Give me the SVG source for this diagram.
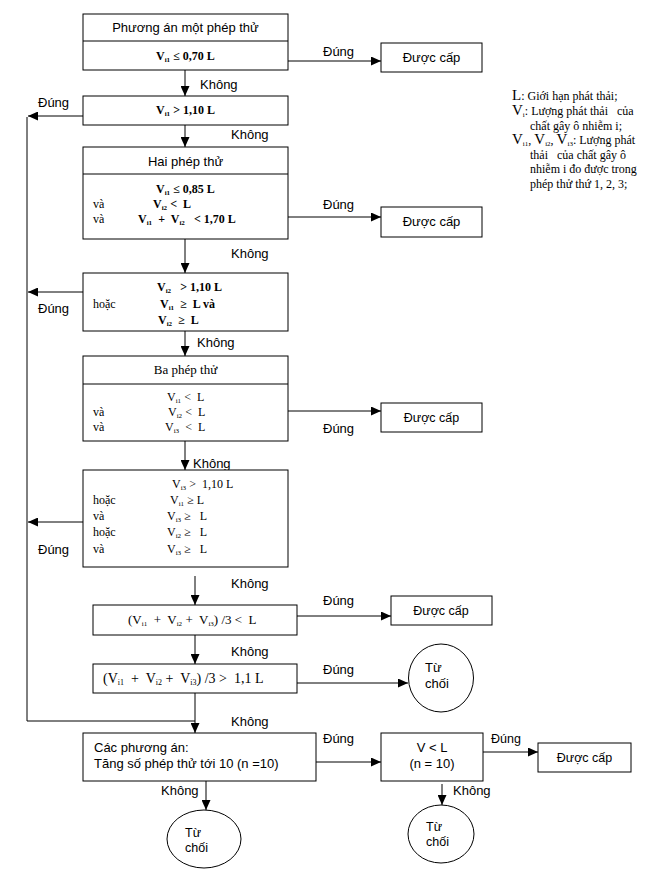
<svg xmlns="http://www.w3.org/2000/svg" width="662" height="878" viewBox="0 0 662 878">
<defs>
<marker id="ah" markerUnits="userSpaceOnUse" markerWidth="10" markerHeight="9" refX="10" refY="4.5" orient="auto">
<path d="M0,0 L10,4.5 L0,9 z" fill="#000"/>
</marker>
<style>
.box { fill: #fff; stroke: #000; stroke-width: 1; }
.ln { fill: none; stroke: #000; stroke-width: 1; }
.ar { fill: none; stroke: #000; stroke-width: 1; marker-end: url(#ah); }
.sans { font-family: "Liberation Sans", Arial, sans-serif; font-size: 13px; fill: #000; }
.sm { font-size: 12.5px; }
.serif { font-family: "Liberation Serif", "Times New Roman", serif; font-size: 12px; fill: #000; }
.b { font-weight: bold; }
.sub { font-size: 7px; }
.sub8 { font-size: 8px; }
.big { font-size: 15px; }
.leg { font-size: 12px; }
.mid { text-anchor: middle; }
</style>
</defs>
<rect width="662" height="878" fill="#fff"/>

<g id="connectors">
<line class="ar" x1="185" y1="70" x2="185" y2="96"/>
<line class="ar" x1="288" y1="61" x2="381" y2="61"/>
<line class="ar" x1="83" y1="116" x2="28" y2="116"/>
<line class="ar" x1="185" y1="125" x2="185" y2="147"/>
<line class="ar" x1="288" y1="217" x2="381" y2="217"/>
<line class="ar" x1="185" y1="239" x2="185" y2="273"/>
<line class="ar" x1="83" y1="292" x2="28" y2="292"/>
<line class="ar" x1="185" y1="331" x2="185" y2="356"/>
<line class="ar" x1="288" y1="411" x2="381" y2="411"/>
<line class="ar" x1="185" y1="441" x2="185" y2="470"/>
<line class="ar" x1="83" y1="522" x2="28" y2="522"/>
<line class="ar" x1="195" y1="576" x2="195" y2="605"/>
<line class="ar" x1="297" y1="616" x2="391" y2="616"/>
<line class="ar" x1="195" y1="635" x2="195" y2="664"/>
<line class="ar" x1="297" y1="683" x2="408" y2="683"/>
<line class="ar" x1="195" y1="693" x2="195" y2="733"/>
<polyline class="ln" points="27,117 27,721 195,721"/>
<line class="ar" x1="316" y1="762" x2="381" y2="762"/>
<line class="ar" x1="206" y1="781" x2="206" y2="810"/>
<line class="ar" x1="483" y1="752" x2="538" y2="752"/>
<line class="ar" x1="442" y1="784" x2="442" y2="805"/>

<text class="sans" x="323" y="56">Đúng</text>
<text class="sans" x="200" y="89">Không</text>
<text class="sans" x="38" y="107">Đúng</text>
<text class="sans" x="231" y="139">Không</text>
<text class="sans" x="323" y="209">Đúng</text>
<text class="sans" x="231" y="258">Không</text>
<text class="sans" x="38" y="313">Đúng</text>
<text class="sans" x="197" y="347">Không</text>
<text class="sans" x="323" y="433">Đúng</text>
<text class="sans" x="193" y="468">Không</text>
<text class="sans" x="38" y="554">Đúng</text>
<text class="sans" x="231" y="588">Không</text>
<text class="sans" x="323" y="605">Đúng</text>
<text class="sans" x="231" y="656">Không</text>
<text class="sans" x="323" y="674">Đúng</text>
<text class="sans" x="231" y="726">Không</text>
<text class="sans" x="323" y="743">Đúng</text>
<text class="sans" x="161" y="795">Không</text>
<text class="sans sm" x="491" y="743">Đúng</text>
<text class="sans" x="453" y="795">Không</text>
</g>

<g id="n1">
<rect class="box" x="83" y="14" width="205" height="56"/>
<line class="ln" x1="83" y1="41" x2="288" y2="41"/>
<text class="sans mid" x="185.5" y="32">Phương án một phép thử</text>
<text class="serif b" x="156" y="60" xml:space="preserve">V<tspan class="sub" dy="2">i1</tspan><tspan dy="-2"> ≤ 0,70 L</tspan></text>
</g>

<g id="n2">
<rect class="box" x="83" y="96" width="205" height="29"/>
<text class="serif b" x="156" y="114" xml:space="preserve">V<tspan class="sub" dy="2">i1</tspan><tspan dy="-2"> &gt; 1,10 L</tspan></text>
</g>

<g id="n3">
<rect class="box" x="83" y="147" width="205" height="92"/>
<line class="ln" x1="83" y1="174" x2="288" y2="174"/>
<text class="sans mid" x="185.5" y="166">Hai phép thử</text>
<text class="serif b" x="156" y="193" xml:space="preserve">V<tspan class="sub" dy="2">i1</tspan><tspan dy="-2"> ≤ 0,85 L</tspan></text>
<text class="serif" x="93" y="208">và</text>
<text class="serif b" x="153" y="208" xml:space="preserve">V<tspan class="sub" dy="2">i2</tspan><tspan dy="-2"> &lt;  L</tspan></text>
<text class="serif" x="93" y="223">và</text>
<text class="serif b" x="138" y="223" xml:space="preserve">V<tspan class="sub" dy="2">i1</tspan><tspan dy="-2">  +  V</tspan><tspan class="sub" dy="2">i2</tspan><tspan dy="-2">   &lt; 1,70 L</tspan></text>
</g>

<g id="n4">
<rect class="box" x="83" y="273" width="205" height="58"/>
<text class="serif b" x="157" y="291" xml:space="preserve">V<tspan class="sub" dy="2">i2</tspan><tspan dy="-2">   &gt; 1,10 L</tspan></text>
<text class="serif" x="93" y="308">hoặc</text>
<text class="serif b" x="160" y="308" xml:space="preserve">V<tspan class="sub" dy="2">i1</tspan><tspan dy="-2">  ≥  L và</tspan></text>
<text class="serif b" x="158" y="324" xml:space="preserve">V<tspan class="sub" dy="2">i2</tspan><tspan dy="-2">  ≥  L</tspan></text>
</g>

<g id="n5">
<rect class="box" x="83" y="356" width="205" height="85"/>
<line class="ln" x1="83" y1="384" x2="288" y2="384"/>
<text class="serif mid" x="185.5" y="374" style="font-size:13px">Ba phép thử</text>
<text class="serif" x="167" y="401" xml:space="preserve">V<tspan class="sub" dy="2">i1</tspan><tspan dy="-2"> &lt;  L</tspan></text>
<text class="serif" x="93" y="416">và</text>
<text class="serif" x="168" y="416" xml:space="preserve">V<tspan class="sub" dy="2">i2</tspan><tspan dy="-2"> &lt;  L</tspan></text>
<text class="serif" x="93" y="431">và</text>
<text class="serif" x="165" y="431" xml:space="preserve">V<tspan class="sub" dy="2">i3</tspan><tspan dy="-2">  &lt;  L</tspan></text>
</g>

<g id="n6">
<rect class="box" x="83" y="470" width="205" height="97"/>
<text class="serif" x="172" y="488" xml:space="preserve">V<tspan class="sub" dy="2">i3</tspan><tspan dy="-2"> &gt;  1,10 L</tspan></text>
<text class="serif" x="93" y="504">hoặc</text>
<text class="serif" x="170" y="504" xml:space="preserve">V<tspan class="sub" dy="2">i1</tspan><tspan dy="-2"> ≥ L</tspan></text>
<text class="serif" x="93" y="520">và</text>
<text class="serif" x="167" y="520" xml:space="preserve">V<tspan class="sub" dy="2">i3</tspan><tspan dy="-2"> ≥   L</tspan></text>
<text class="serif" x="93" y="536">hoặc</text>
<text class="serif" x="167" y="536" xml:space="preserve">V<tspan class="sub" dy="2">i2</tspan><tspan dy="-2"> ≥   L</tspan></text>
<text class="serif" x="93" y="553">và</text>
<text class="serif" x="167" y="553" xml:space="preserve">V<tspan class="sub" dy="2">i3</tspan><tspan dy="-2"> ≥   L</tspan></text>
</g>

<g id="n7">
<rect class="box" x="93" y="605" width="204" height="30"/>
<text class="serif" x="128" y="624" style="font-size:13px" xml:space="preserve">(V<tspan class="sub" dy="2">i1</tspan><tspan dy="-2">  +  V</tspan><tspan class="sub" dy="2">i2</tspan><tspan dy="-2"> +  V</tspan><tspan class="sub" dy="2">i3</tspan><tspan dy="-2">) /3 &lt;  L</tspan></text>
</g>

<g id="n8">
<rect class="box" x="93" y="664" width="204" height="29"/>
<text class="serif" x="103" y="683" style="font-size:14px" xml:space="preserve">(V<tspan class="sub8" dy="2">i1</tspan><tspan dy="-2">  +  V</tspan><tspan class="sub8" dy="2">i2</tspan><tspan dy="-2"> +  V</tspan><tspan class="sub8" dy="2">i3</tspan><tspan dy="-2">) /3 &gt;  1,1 L</tspan></text>
</g>

<g id="n9">
<rect class="box" x="83" y="733" width="233" height="48"/>
<text class="sans" x="94" y="752">Các phương án:</text>
<text class="sans" x="94" y="768">Tăng số phép thử tới 10 (n =10)</text>
</g>

<g id="n10">
<rect class="box" x="381" y="733" width="102" height="48"/>
<text class="sans mid" x="432" y="752">V &lt; L</text>
<text class="sans mid" x="432" y="768">(n = 10)</text>
</g>

<g id="ok1">
<rect class="box" x="381" y="43" width="101" height="29"/>
<text class="sans mid" x="431.5" y="62">Được cấp</text>
</g>
<g id="ok2">
<rect class="box" x="381" y="207" width="101" height="30"/>
<text class="sans mid" x="431.5" y="226">Được cấp</text>
</g>
<g id="ok3">
<rect class="box" x="381" y="403" width="101" height="29"/>
<text class="sans sm mid" x="431.5" y="422">Được cấp</text>
</g>
<g id="ok4">
<rect class="box" x="391" y="596" width="101" height="29"/>
<text class="sans sm mid" x="441" y="615">Được cấp</text>
</g>
<g id="ok5">
<rect class="box" x="538" y="743" width="93" height="29"/>
<text class="sans sm mid" x="584.5" y="762">Được cấp</text>
</g>

<g id="rej1">
<ellipse class="box" cx="441" cy="678" rx="32.5" ry="34"/>
<text class="sans" x="425" y="672">Từ</text>
<text class="sans" x="425" y="688">chối</text>
</g>
<g id="rej2">
<ellipse class="box" cx="204" cy="839" rx="37" ry="29"/>
<text class="sans sm" x="185" y="837">Từ</text>
<text class="sans sm" x="185" y="852">chối</text>
</g>
<g id="rej3">
<ellipse class="box" cx="441" cy="834" rx="33" ry="29"/>
<text class="sans sm" x="426" y="831">Từ</text>
<text class="sans sm" x="426" y="846">chối</text>
</g>

<g id="legend">
<text class="serif" x="512" y="100"><tspan class="big">L</tspan><tspan class="leg">: Giới hạn phát thải;</tspan></text>
<text class="serif" x="512" y="115" xml:space="preserve"><tspan class="big">V</tspan><tspan class="sub" dy="2">i</tspan><tspan class="leg" dy="-2">: Lượng phát thải   của</tspan></text>
<text class="serif leg" x="530" y="129.5">chất gây ô nhiễm i;</text>
<text class="serif" x="512" y="144" xml:space="preserve"><tspan class="big">V</tspan><tspan class="sub" dy="2">i1</tspan><tspan class="leg" dy="-2">, </tspan><tspan class="big">V</tspan><tspan class="sub" dy="2">i2</tspan><tspan class="leg" dy="-2">, </tspan><tspan class="big">V</tspan><tspan class="sub" dy="2">i3</tspan><tspan class="leg" dy="-2">: Lượng phát</tspan></text>
<text class="serif leg" x="530" y="158.5" xml:space="preserve">thải   của chất gây ô</text>
<text class="serif leg" x="530" y="173">nhiễm i đo được trong</text>
<text class="serif leg" x="530" y="187.5">phép thử thứ 1, 2, 3;</text>
</g>
</svg>
